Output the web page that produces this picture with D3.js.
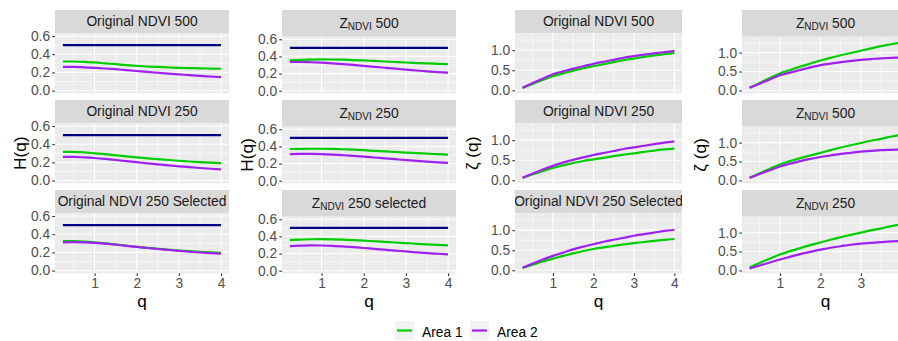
<!DOCTYPE html>
<html><head><meta charset="utf-8">
<script src="https://cdn.jsdelivr.net/npm/d3@7"></script>
<style>
body{margin:0;background:#fff;overflow:hidden}
svg{display:block;font-family:"Liberation Sans",Arial,Helvetica,sans-serif}
</style>
</head><body>
<svg id="chart" width="898" height="341"></svg>
<script>
// ---------------- DATA ----------------
const q = [0.25,0.5,0.75,1,1.25,1.5,1.75,2,2.25,2.5,2.75,3,3.25,3.5,3.75,4];
const hReference = 0.5;
const seriesNames = ["Area 1","Area 2"];
const seriesColors = ["#00CD00","#A020F0"];
const refColor = "#000080";

// H(q) — Original NDVI
const hOrig500A1 = [0.320,0.320,0.315,0.310,0.300,0.290,0.280,0.272,0.265,0.260,0.255,0.250,0.247,0.244,0.242,0.240];
const hOrig500A2 = [0.260,0.260,0.256,0.250,0.243,0.235,0.225,0.215,0.205,0.196,0.187,0.178,0.170,0.162,0.155,0.148];
const hOrig250A1 = [0.315,0.315,0.310,0.300,0.290,0.278,0.266,0.255,0.245,0.235,0.226,0.218,0.210,0.203,0.197,0.192];
const hOrig250A2 = [0.260,0.260,0.255,0.248,0.238,0.226,0.214,0.202,0.190,0.178,0.167,0.157,0.147,0.138,0.130,0.123];
const hOrig250SelA1 = [0.325,0.323,0.318,0.310,0.300,0.288,0.275,0.262,0.250,0.240,0.230,0.221,0.213,0.206,0.200,0.195];
const hOrig250SelA2 = [0.310,0.312,0.310,0.305,0.296,0.285,0.272,0.260,0.248,0.237,0.226,0.216,0.207,0.199,0.192,0.185];

// H(q) — Z_NDVI
const hZ500A1 = [0.355,0.360,0.363,0.365,0.364,0.362,0.358,0.353,0.347,0.341,0.335,0.329,0.323,0.318,0.314,0.310];
const hZ500A2 = [0.335,0.335,0.332,0.327,0.320,0.311,0.301,0.290,0.279,0.268,0.257,0.246,0.236,0.226,0.217,0.210];
const hZ250A1 = [0.370,0.372,0.373,0.373,0.371,0.367,0.362,0.356,0.349,0.342,0.335,0.328,0.321,0.315,0.310,0.305];
const hZ250A2 = [0.310,0.312,0.312,0.310,0.305,0.298,0.290,0.281,0.271,0.261,0.251,0.241,0.232,0.223,0.215,0.208];
const hZ250SelA1 = [0.358,0.363,0.367,0.368,0.366,0.362,0.357,0.351,0.344,0.337,0.329,0.322,0.314,0.307,0.301,0.296];
const hZ250SelA2 = [0.288,0.292,0.295,0.294,0.290,0.283,0.275,0.265,0.255,0.245,0.235,0.225,0.215,0.206,0.198,0.190];

// zeta(q) — Original NDVI
const zOrig500A1 = [0.060,0.160,0.260,0.350,0.420,0.490,0.550,0.600,0.650,0.700,0.750,0.790,0.830,0.870,0.900,0.930];
const zOrig500A2 = [0.065,0.180,0.290,0.400,0.470,0.540,0.600,0.660,0.710,0.760,0.810,0.850,0.890,0.920,0.950,0.980];
const zOrig250A1 = [0.060,0.150,0.230,0.310,0.370,0.430,0.480,0.520,0.560,0.600,0.640,0.670,0.710,0.740,0.770,0.790];
const zOrig250A2 = [0.065,0.170,0.270,0.360,0.440,0.510,0.570,0.630,0.680,0.730,0.780,0.820,0.860,0.900,0.940,0.970];
const zOrig250SelA1 = [0.060,0.140,0.220,0.290,0.360,0.420,0.480,0.530,0.570,0.610,0.645,0.675,0.705,0.735,0.760,0.780];
const zOrig250SelA2 = [0.065,0.170,0.270,0.360,0.440,0.520,0.590,0.650,0.710,0.760,0.810,0.860,0.900,0.940,0.980,1.010];

// zeta(q) — Z_NDVI
const zZ500aA1 = [0.070,0.200,0.330,0.450,0.540,0.630,0.710,0.790,0.860,0.930,0.990,1.050,1.110,1.170,1.220,1.270];
const zZ500aA2 = [0.070,0.180,0.290,0.400,0.470,0.540,0.610,0.670,0.710,0.750,0.780,0.810,0.830,0.850,0.860,0.870];
const zZ500bA1 = [0.070,0.190,0.310,0.420,0.510,0.590,0.660,0.730,0.800,0.870,0.930,0.990,1.050,1.100,1.160,1.210];
const zZ500bA2 = [0.070,0.170,0.270,0.370,0.440,0.510,0.570,0.620,0.660,0.700,0.730,0.760,0.780,0.800,0.810,0.820];
const zZ250A1 = [0.080,0.200,0.310,0.420,0.510,0.590,0.670,0.740,0.810,0.880,0.940,1.000,1.060,1.110,1.170,1.220];
const zZ250A2 = [0.050,0.130,0.210,0.290,0.360,0.430,0.490,0.550,0.600,0.640,0.680,0.710,0.730,0.750,0.770,0.780];

const xTicks = [1,2,3,4];
const xMinorTicks = [0.5,1.5,2.5,3.5];
const hTicks = [0,0.2,0.4,0.6];
const hMinorTicks = [0.1,0.3,0.5];
const zetaTicks = [0,0.5,1.0];
const zetaMinorTicks = [0.25,0.75,1.25];

// ---------------- LAYOUT ----------------
const FONT = 13.8, TITLE_FONT = 17.2;
const svg = d3.select("#chart");
svg.append("rect").attr("width",898).attr("height",341).attr("fill","#fff");
const defs = svg.append("defs");

const groups = [
  {x0:55, x1:229, stripH:23.3, yTitle:"H(q)", yTitleX:20, yDomain:[-0.03,0.63], yTicks:hTicks, yMinor:hMinorTicks, ref:true,
   panels:[{main:"Original NDVI 500", a1:hOrig500A1, a2:hOrig500A2},
           {main:"Original NDVI 250", a1:hOrig250A1, a2:hOrig250A2},
           {main:"Original NDVI 250 Selected", a1:hOrig250SelA1, a2:hOrig250SelA2}]},
  {x0:282, x1:456, stripH:26.7, yTitle:"H(q)", yTitleX:247, yDomain:[-0.03,0.63], yTicks:hTicks, yMinor:hMinorTicks, ref:true,
   panels:[{sub:true, main:" 500", a1:hZ500A1, a2:hZ500A2},
           {sub:true, main:" 250", a1:hZ250A1, a2:hZ250A2},
           {sub:true, main:" 250 selected", a1:hZ250SelA1, a2:hZ250SelA2}]},
  {x0:515, x1:682, stripH:23.3, yTitle:"ζ (q)", yTitleX:472, yDomain:[-0.075,1.42], yTicks:zetaTicks, yMinor:zetaMinorTicks, ref:false,
   panels:[{main:"Original NDVI 500", a1:zOrig500A1, a2:zOrig500A2},
           {main:"Original NDVI 250", a1:zOrig250A1, a2:zOrig250A2},
           {main:"Original NDVI 250 Selected", a1:zOrig250SelA1, a2:zOrig250SelA2}]},
  {x0:742, x1:909, stripH:26.7, yTitle:"ζ (q)", yTitleX:700, yDomain:[-0.075,1.42], yTicks:zetaTicks, yMinor:zetaMinorTicks, ref:false,
   panels:[{sub:true, main:" 500", a1:zZ500aA1, a2:zZ500aA2},
           {sub:true, main:" 500", a1:zZ500bA1, a2:zZ500bA2},
           {sub:true, main:" 250", a1:zZ250A1, a2:zZ250A2}]}
];

let clipId = 0;
groups.forEach((g, gi) => {
  const x = d3.scaleLinear().domain([0.0625, 4.1875]).range([g.x0, g.x1]);
  g.panels.forEach((p, r) => {
    const top = 10 + 90*r;
    const pTop = top + g.stripH;
    const pBot = 93.3 + 90*r;
    const y = d3.scaleLinear().domain(g.yDomain).range([pBot, pTop]);
    const G = svg.append("g");
    // strip
    const cid = "clip" + (clipId++);
    defs.append("clipPath").attr("id", cid).append("rect")
      .attr("x", g.x0).attr("y", top).attr("width", g.x1-g.x0).attr("height", g.stripH);
    G.append("rect").attr("x", g.x0).attr("y", top).attr("width", g.x1-g.x0).attr("height", g.stripH).attr("fill","#D9D9D9");
    const cx = (g.x0+g.x1)/2;
    const st = G.append("text").attr("clip-path", `url(#${cid})`)
      .attr("x", cx).attr("y", top + g.stripH/2 + 4.8)
      .attr("text-anchor","middle").attr("font-size", FONT).attr("fill","#1A1A1A");
    if (p.sub) {
      st.attr("y", top + 17.7);
      st.append("tspan").text("Z");
      st.append("tspan").attr("font-size", 10).attr("dy", 2.5).text("NDVI");
      st.append("tspan").attr("dy", -2.5).text(p.main);
    } else {
      st.text(p.main);
    }
    // panel background
    G.append("rect").attr("x", g.x0).attr("y", pTop).attr("width", g.x1-g.x0).attr("height", pBot-pTop).attr("fill","#EBEBEB");
    // grid
    g.yMinor.forEach(v => G.append("line").attr("x1",g.x0).attr("x2",g.x1).attr("y1",y(v)).attr("y2",y(v)).attr("stroke","#fff").attr("stroke-width",0.55));
    xMinorTicks.forEach(v => G.append("line").attr("x1",x(v)).attr("x2",x(v)).attr("y1",pTop).attr("y2",pBot).attr("stroke","#fff").attr("stroke-width",0.55));
    g.yTicks.forEach(v => G.append("line").attr("x1",g.x0).attr("x2",g.x1).attr("y1",y(v)).attr("y2",y(v)).attr("stroke","#fff").attr("stroke-width",1.1));
    xTicks.forEach(v => G.append("line").attr("x1",x(v)).attr("x2",x(v)).attr("y1",pTop).attr("y2",pBot).attr("stroke","#fff").attr("stroke-width",1.1));
    // y axis
    const yAxis = d3.axisLeft(y).tickValues(g.yTicks).tickFormat(d3.format(".1f")).tickSize(2.75).tickPadding(2.2);
    const ya = G.append("g").attr("transform", `translate(${g.x0},0)`).call(yAxis);
    ya.attr("font-family", null).attr("font-size", null);
    ya.select(".domain").remove();
    ya.selectAll("line").attr("stroke","#333").attr("stroke-width",1.07);
    ya.selectAll("text").attr("fill","#4D4D4D").attr("font-size",FONT);
    // x axis on last row
    if (r === g.panels.length-1) {
      const xAxis = d3.axisBottom(x).tickValues(xTicks).tickFormat(d3.format("d")).tickSize(2.75).tickPadding(2.2);
      const xa = G.append("g").attr("transform", `translate(0,${pBot})`).call(xAxis);
      xa.attr("font-family", null).attr("font-size", null);
      xa.select(".domain").remove();
      xa.selectAll("line").attr("stroke","#333").attr("stroke-width",1.07);
      xa.selectAll("text").attr("fill","#4D4D4D").attr("font-size",FONT);
      G.append("text").attr("x", cx).attr("y", 307).attr("text-anchor","middle").attr("font-size",TITLE_FONT).attr("fill","#000").text("q");
    }
    // lines
    const pc = "pclip" + (clipId++);
    defs.append("clipPath").attr("id", pc).append("rect")
      .attr("x", g.x0).attr("y", pTop).attr("width", g.x1-g.x0).attr("height", pBot-pTop);
    const L = G.append("g").attr("clip-path", `url(#${pc})`);
    const line = d3.line().x((d,i)=>x(q[i])).y(d=>y(d)).curve(d3.curveMonotoneX);
    if (g.ref) {
      L.append("path").attr("d", line(q.map(()=>hReference))).attr("fill","none").attr("stroke",refColor).attr("stroke-width",2.2);
    }
    [p.a1, p.a2].forEach((s, si) => {
      L.append("path").attr("d", line(s)).attr("fill","none").attr("stroke",seriesColors[si]).attr("stroke-width",2.2).attr("stroke-linecap","butt");
    });
  });
  // y title
  const midY = (10 + g.stripH + 273.3)/2;
  svg.append("text").attr("transform", `translate(${g.yTitleX},${midY}) rotate(-90)`)
    .attr("dy","0.35em").attr("text-anchor","middle").attr("font-size",TITLE_FONT).attr("fill","#000").text(g.yTitle);
});

// legend
const legend = svg.append("g");
const legX = [395, 470];
seriesNames.forEach((n, i) => {
  legend.append("rect").attr("x", legX[i]).attr("y", 321).attr("width", 19).attr("height", 19).attr("fill","#F2F2F2");
  legend.append("line").attr("x1", legX[i]+2).attr("x2", legX[i]+17).attr("y1", 330.5).attr("y2", 330.5).attr("stroke", seriesColors[i]).attr("stroke-width", 2.2);
  legend.append("text").attr("x", legX[i]+27).attr("y", 336.5).attr("font-size", FONT).attr("fill","#000").text(n);
});
</script>
</body></html>
